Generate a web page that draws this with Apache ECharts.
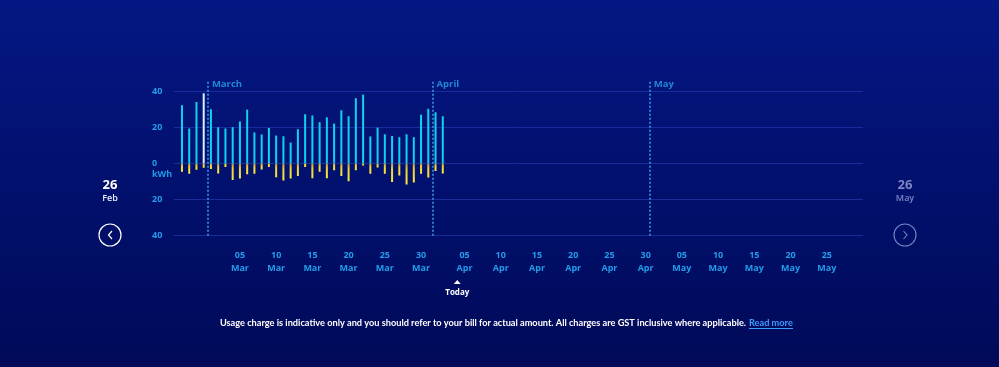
<!DOCTYPE html>
<html>
<head>
<meta charset="utf-8">
<script src="https://cdn.jsdelivr.net/npm/echarts@6/dist/echarts.min.js"></script>
<style>
html,body{margin:0;padding:0;width:999px;height:367px;overflow:hidden;background:#020f6e;}
#c{width:999px;height:367px;}
</style>
</head>
<body>
<div id="c"></div>
<script>
// ---- data ----
const dates = ['2025-02-25','2025-02-26','2025-02-27','2025-02-28',
  '2025-03-01','2025-03-02','2025-03-03','2025-03-04','2025-03-05','2025-03-06','2025-03-07','2025-03-08','2025-03-09','2025-03-10',
  '2025-03-11','2025-03-12','2025-03-13','2025-03-14','2025-03-15','2025-03-16','2025-03-17','2025-03-18','2025-03-19','2025-03-20',
  '2025-03-21','2025-03-22','2025-03-23','2025-03-24','2025-03-25','2025-03-26','2025-03-27','2025-03-28','2025-03-29','2025-03-30',
  '2025-03-31','2025-04-01','2025-04-02'];
const usage = [32.3,19.4,34.1,38.9,
  30.1,20.1,19.4,20.1,23.3,29.9,17.2,16.1,19.7,15.5,
  15.1,11.6,19.0,27.3,26.6,22.9,25.6,22.1,29.5,26.2,
  36.2,38.2,15.0,19.9,16.2,15.3,14.6,16.2,14.6,27.1,
  30.3,28.4,26.2];
const feedIn = [-4.6,-5.7,-3.5,-2.4,
  -3.0,-5.6,-1.9,-9.1,-8.3,-5.9,-5.7,-3.3,-2.0,-7.6,
  -9.4,-8.3,-6.9,-1.9,-8.1,-4.6,-8.1,-3.7,-6.9,-9.8,
  -3.7,-1.1,-5.7,-2.2,-5.7,-10.2,-6.7,-11.6,-10.5,-5.7,
  -7.8,-4.1,-5.5];
const highlightedDate = '2025-02-28';
const months = ['March','April','May'];
const monthStarts = ['2025-03-01','2025-04-01','2025-05-01'];
const tickDates = ['2025-03-05','2025-03-10','2025-03-15','2025-03-20','2025-03-25','2025-03-30',
  '2025-04-05','2025-04-10','2025-04-15','2025-04-20','2025-04-25','2025-04-30',
  '2025-05-05','2025-05-10','2025-05-15','2025-05-20','2025-05-25'];
const yTicks = [-40,-20,0,20,40];
const yUnit = 'kWh';
const todayDate = '2025-04-04';
const monthNames = ['Jan','Feb','Mar','Apr','May','Jun','Jul','Aug','Sep','Oct','Nov','Dec'];

// ---- helpers ----
const origin = Date.UTC(2025,1,25);
function dayIdx(s){const p=s.split('-').map(Number);return (Date.UTC(p[0],p[1]-1,p[2])-origin)/86400000;}
function fmtTick(s){const p=s.split('-');return p[2]+'\n'+monthNames[Number(p[1])-1];}
const tickIdx = tickDates.map(dayIdx);
const tickMap = {}; tickIdx.forEach((v,i)=>{tickMap[v]=fmtTick(tickDates[i]);});

const FONT = '"Open Sans", "Noto Sans", sans-serif';
const TFONT = 'Lato, "Open Sans", sans-serif';
const LBL = '#229ce9';

const usageData = dates.map((d,i)=>{
  const item = {value:[dayIdx(d), usage[i]]};
  if (d === highlightedDate) item.itemStyle = {color:'#d6f3fb'};
  return item;
});
const feedData = dates.map((d,i)=>[dayIdx(d), feedIn[i]]);
const monthLineX = monthStarts.map(s=>dayIdx(s)-0.42);

const chart = echarts.init(document.getElementById('c'), null, {renderer:'canvas'});
const option = {
  animation:false,
  backgroundColor:{type:'linear',x:0,y:0,x2:0,y2:1,colorStops:[{offset:0,color:'#041784'},{offset:1,color:'#000a58'}]},
  grid:{left:174, right:136, top:80.5, bottom:131.3, containLabel:false},
  xAxis:{
    type:'value', min:-1.1, max:94,
    axisLine:{show:false}, axisTick:{show:false}, splitLine:{show:false},
    axisLabel:{
      customValues: tickIdx,
      formatter:v=>tickMap[v]||'',
      color:LBL, fontSize:9, fontWeight:'bold', fontFamily:FONT,
      lineHeight:13, margin:13
    }
  },
  yAxis:{
    type:'value', min:-40, max:46, interval:20,
    axisLine:{show:false}, axisTick:{show:false},
    splitLine:{show:true, showMaxLine:false, lineStyle:{color:'#1a2b9d', width:1}},
    axisLabel:{
      showMaxLabel:false,
      formatter:v=> yTicks.indexOf(v)>=0 ? String(Math.abs(v)) : '',
      color:LBL, fontSize:9, fontWeight:'bold', fontFamily:FONT,
      align:'left', margin:22
    }
  },
  series:[
    {
      type:'bar', name:'usage', data:usageData, barWidth:2, barGap:'-100%',
      itemStyle:{color:'#0fd3ec'},
      markLine:{
        silent:true, symbol:'none', label:{show:false},
        lineStyle:{color:'#3d9ff0', type:[2,2], width:1.5},
        data: monthLineX.map(x=>[{coord:[x,-40]},{coord:[x,46]}])
      }
    },
    {
      type:'bar', name:'feedin', data:feedData, barWidth:2, barGap:'-100%',
      itemStyle:{color:{type:'linear',x:0,y:0,x2:0,y2:1,colorStops:[
        {offset:0,color:'#b49c4a'},{offset:0.3,color:'#ecd334'},{offset:1,color:'#fbe640'}]}}
    },
    {
      type:'scatter', symbolSize:0, silent:true,
      data: monthLineX.map((x,i)=>({value:[x,43.9], name:months[i]})),
      label:{show:true, position:'right', distance:4, formatter:p=>p.name,
        color:'#2aa2ee', fontSize:9.5, fontWeight:'bold', fontFamily:FONT}
    }
  ]
};
chart.setOption(option);

// decorative / UI elements
const tx = chart.convertToPixel({xAxisIndex:0}, dayIdx(todayDate));
const y0 = chart.convertToPixel({yAxisIndex:0}, 0);
chart.setOption({
  graphic:[
    {type:'text', x:152, y:y0+10.5, style:{text:yUnit, fill:LBL, font:'bold 9px '+FONT, align:'left', verticalAlign:'middle'}},
    {type:'text', x:110, y:185, style:{text:'26', fill:'#ffffff', font:'bold 13px '+FONT, align:'center', verticalAlign:'middle'}},
    {type:'text', x:110, y:198.5, style:{text:'Feb', fill:'#e8ecff', font:'600 9px '+FONT, align:'center', verticalAlign:'middle'}},
    {type:'circle', shape:{cx:110, cy:235, r:11}, style:{fill:'none', stroke:'#ffffff', lineWidth:1.2}},
    {type:'polyline', shape:{points:[[112,231],[108.5,235],[112,239]]}, style:{fill:'none', stroke:'#ffffff', lineWidth:1.2}},
    {type:'text', x:905, y:185, style:{text:'26', fill:'#7f86c4', font:'bold 13px '+FONT, align:'center', verticalAlign:'middle'}},
    {type:'text', x:905, y:198.5, style:{text:'May', fill:'#7f86c4', font:'600 9px '+FONT, align:'center', verticalAlign:'middle'}},
    {type:'circle', shape:{cx:905, cy:235, r:11}, style:{fill:'none', stroke:'#7a82c4', lineWidth:1.1}},
    {type:'polyline', shape:{points:[[903.5,231],[907,235],[903.5,239]]}, style:{fill:'none', stroke:'#7a82c4', lineWidth:1.1}},
    {type:'polygon', shape:{points:[[tx-3.5,284],[tx,280],[tx+3.5,284]]}, style:{fill:'#ffffff'}},
    {type:'text', x:tx, y:292.5, style:{text:'Today', fill:'#ffffff', font:'bold 8px '+FONT, align:'center', verticalAlign:'middle'}},
    {type:'text', x:746, y:323, style:{text:'Usage charge is indicative only and you should refer to your bill for actual amount. All charges are GST inclusive where applicable.', fill:'#ffffff', font:'bold 9.2px '+TFONT, align:'right', verticalAlign:'middle'}},
    {type:'text', x:749, y:323, style:{text:'Read more', fill:'#3c9cff', font:'bold 9.2px '+TFONT, align:'left', verticalAlign:'middle'}},
    {type:'line', shape:{x1:749, y1:328.5, x2:793, y2:328.5}, style:{stroke:'#3c9cff', lineWidth:1}}
  ]
});
</script>
</body>
</html>
